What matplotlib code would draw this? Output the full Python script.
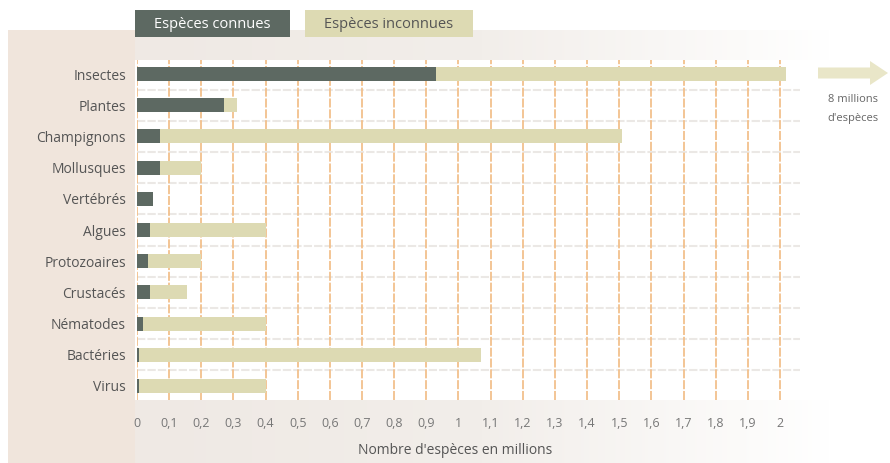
import matplotlib
matplotlib.use("Agg")
import matplotlib.pyplot as plt
import numpy as np
from matplotlib.patches import Rectangle, FancyArrow

plt.rcParams['font.family'] = ['Open Sans', 'DejaVu Sans']

categories = ["Insectes", "Plantes", "Champignons", "Mollusques", "Vertébrés",
              "Algues", "Protozoaires", "Crustacés", "Nématodes", "Bactéries", "Virus"]
known = [0.93, 0.27, 0.07, 0.07, 0.05, 0.04, 0.035, 0.04, 0.02, 0.005, 0.005]
total = [2.02, 0.31, 1.51, 0.2, 0.05, 0.4, 0.2, 0.155, 0.4, 1.07, 0.4]
xticks = [round(0.1 * i, 1) for i in range(21)]
xticklabels = [("%g" % v).replace(".", ",") for v in xticks]

W, H = 890, 463
fig = plt.figure(figsize=(W / 100, H / 100), dpi=100)
fig.patch.set_facecolor("white")

# background decoration
bg = fig.add_axes([0, 0, 1, 1], zorder=0)
bg.set_xlim(0, W)
bg.set_ylim(H, 0)
bg.axis("off")
peach = "#f0e5dc"
bg.add_patch(Rectangle((8, 30), 127, 433, color=peach, lw=0))
grad = np.linspace(0, 1, 256)
cmap = matplotlib.colors.LinearSegmentedColormap.from_list(
    "g", ["#efe9e4", "#f2eeea", "#ffffff"])
bg.imshow(grad[None, :], extent=(135, 830, 60, 30), cmap=cmap, aspect="auto", zorder=1)
bg.imshow(grad[None, :], extent=(135, 830, 463, 400), cmap=cmap, aspect="auto", zorder=1)

# legend boxes
c_known = "#5d6962"
c_unknown = "#dddab3"
bg.add_patch(Rectangle((135, 10), 155, 27, color=c_known, lw=0, zorder=2))
bg.text(212, 24, "Espèces connues", color="white", ha="center", va="center",
        fontsize=10.5, zorder=3)
bg.add_patch(Rectangle((305, 10), 168, 27, color=c_unknown, lw=0, zorder=2))
bg.text(389, 24, "Espèces inconnues", color="#555555", ha="center", va="center",
        fontsize=10.5, zorder=3)

# right arrow and note
bg.add_patch(FancyArrow(818, 73, 52, 0, width=11, head_width=24, head_length=18,
                        length_includes_head=False, color="#e9e6c8", lw=0, zorder=2))
bg.text(853, 100, "8 millions", color="#666666", ha="center", va="center", fontsize=8)
bg.text(853, 118, "d'espèces", color="#666666", ha="center", va="center", fontsize=8)

# x axis title
bg.text(455, 451, "Nombre d'espèces en millions", color="#555555", ha="center",
        va="center", fontsize=10, zorder=3)

# main axes
left_px, right_px, top_px, bot_px = 137, 800, 60, 400
ax = fig.add_axes([left_px / W, 1 - bot_px / H, (right_px - left_px) / W,
                   (bot_px - top_px) / H], zorder=1)
ax.set_facecolor("white")
x_max = (right_px - left_px) / ((780 - 137) / 2.0)
ax.set_xlim(0, x_max)
ax.set_ylim(10.45, -0.45)

y = np.arange(len(categories))
for xv in xticks:
    ax.axvline(xv, color="#f2c08c", lw=1.3, ls=(0, (5, 1)), zorder=1)
for yv in np.arange(0.5, len(categories) - 0.5, 1.0):
    ax.axhline(yv, color="#ebe8e5", lw=1.5, ls=(0, (4, 1)), zorder=0.5)

unknown = [t - k for t, k in zip(total, known)]
ax.barh(y, known, height=0.45, color=c_known, zorder=3)
ax.barh(y, unknown, left=known, height=0.45, color=c_unknown, zorder=3)

ax.set_yticks(y)
ax.set_yticklabels(categories, fontsize=10, color="#555555")
ax.set_xticks(xticks)
ax.set_xticklabels(xticklabels, fontsize=9, color="#777777")
ax.tick_params(length=0, axis="both")
ax.tick_params(axis="x", pad=12)
ax.tick_params(axis="y", pad=8)
for s in ax.spines.values():
    s.set_visible(False)

fig.savefig("out.png", dpi=100, facecolor=fig.get_facecolor())
